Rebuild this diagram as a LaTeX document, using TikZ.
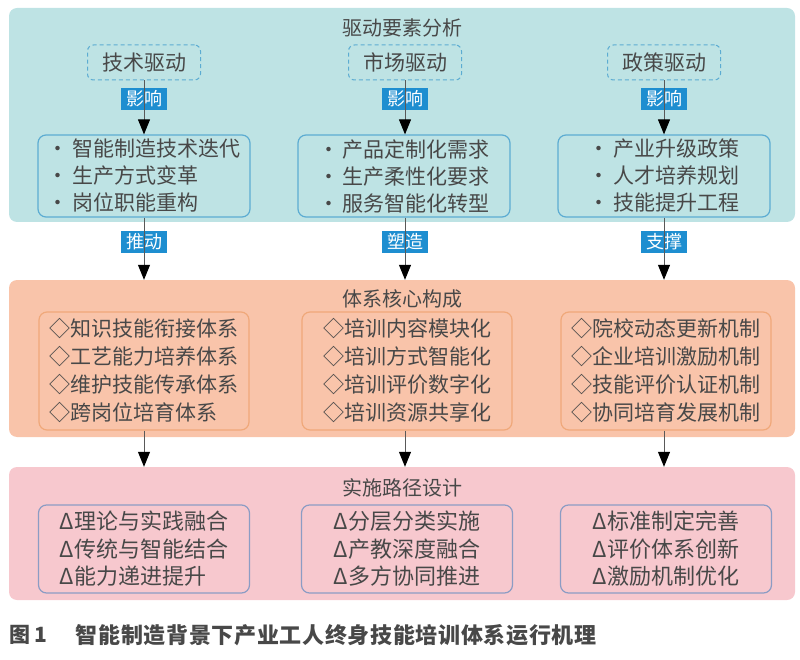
\documentclass[tikz,border=0pt]{standalone}
\usepackage{fontspec}
\usepackage{xcolor}
\usepackage{tikz}
\usetikzlibrary{arrows.meta, positioning}
\setmainfont{Noto Sans CJK SC}
\definecolor{drive_teal}{RGB}{190, 227, 228}
\definecolor{drive_line}{RGB}{92, 172, 210}
\definecolor{core_salmon}{RGB}{249, 196, 170}
\definecolor{core_line}{RGB}{240, 168, 122}
\definecolor{path_pink}{RGB}{247, 200, 206}
\definecolor{path_line}{RGB}{140, 156, 196}
\definecolor{tag_blue}{RGB}{30, 142, 208}
\definecolor{text_gray}{RGB}{72, 72, 72}

\begin{document}
\begin{tikzpicture}[x=1pt, y=-1pt,
    panel/.style={rounded corners=8pt, minimum width=786pt, inner sep=0},
    title/.style={font=\fontsize{20}{24}\selectfont, text=text_gray},
    drivebox/.style={draw=drive_line, dash pattern=on 4pt off 3pt, line width=1pt, rounded corners=6pt,
        minimum width=113pt, minimum height=35pt, inner sep=0,
        font=\fontsize{21}{24}\selectfont, text=text_gray},
    listbox/.style={rounded corners=8pt, line width=1.2pt, inner sep=0,
        align=left, text=text_gray},
    tag/.style={fill=tag_blue, text=white, minimum width=46pt, minimum height=22pt,
        inner sep=0, font=\fontsize{18}{20}\selectfont},
    flow/.style={draw=black!65, line width=1pt,
        -{Triangle[width=12pt,length=15pt,color=black]}}]

    \useasboundingbox (0,0) rectangle (800,660);

    % Panels
    \node[panel, fill=drive_teal, minimum height=214pt] (drive) at (402,115) {};
    \node[panel, fill=core_salmon, minimum height=157pt] (core) at (402,358.5) {};
    \node[panel, fill=path_pink, minimum height=133pt] (path) at (402,533.5) {};

    % Titles
    \node[title] (drivetitle) at (402,28) {驱动要素分析};
    \node[title] (coretitle) at (402,299) {体系核心构成};
    \node[title] (pathtitle) at (402,488) {实施路径设计};

    % Drivers
    \node[drivebox] (tech) at (144,62.5) {技术驱动};
    \node[drivebox] (market) at (405,62.5) {市场驱动};
    \node[drivebox] (policy) at (664,62.5) {政策驱动};

    % Driver contents
    \node[listbox, draw=drive_line, minimum width=212pt, minimum height=82pt,
        font=\fontsize{21}{27}\selectfont] (techlist) at (144,176)
        {·\,智能制造技术迭代\\·\,生产方式变革\\·\,岗位职能重构};
    \node[listbox, draw=drive_line, minimum width=212pt, minimum height=82pt,
        font=\fontsize{21}{27}\selectfont] (marketlist) at (404,176)
        {·\,产品定制化需求\\·\,生产柔性化要求\\·\,服务智能化转型};
    \node[listbox, draw=drive_line, minimum width=212pt, minimum height=82pt,
        font=\fontsize{21}{27}\selectfont] (policylist) at (664,176)
        {·\,产业升级政策\\·\,人才培养规划\\·\,技能提升工程};

    % Core contents
    \node[listbox, draw=core_line, minimum width=210pt, minimum height=118pt,
        font=\fontsize{21}{28}\selectfont] (corelist1) at (144,371)
        {◇知识技能衔接体系\\◇工艺能力培养体系\\◇维护技能传承体系\\◇跨岗位培育体系};
    \node[listbox, draw=core_line, minimum width=210pt, minimum height=118pt,
        font=\fontsize{21}{28}\selectfont] (corelist2) at (407,371)
        {◇培训内容模块化\\◇培训方式智能化\\◇培训评价数字化\\◇培训资源共享化};
    \node[listbox, draw=core_line, minimum width=210pt, minimum height=118pt,
        font=\fontsize{21}{28}\selectfont] (corelist3) at (666,371)
        {◇院校动态更新机制\\◇企业培训激励机制\\◇技能评价认证机制\\◇协同培育发展机制};

    % Path contents
    \node[listbox, draw=path_line, minimum width=211pt, minimum height=88pt,
        font=\fontsize{22}{27.5}\selectfont] (pathlist1) at (144,549)
        {Δ理论与实践融合\\Δ传统与智能结合\\Δ能力递进提升};
    \node[listbox, draw=path_line, minimum width=211pt, minimum height=88pt,
        font=\fontsize{22}{27.5}\selectfont] (pathlist2) at (407,549)
        {Δ分层分类实施\\Δ产教深度融合\\Δ多方协同推进};
    \node[listbox, draw=path_line, minimum width=211pt, minimum height=88pt,
        font=\fontsize{22}{27.5}\selectfont] (pathlist3) at (666,549)
        {Δ标准制定完善\\Δ评价体系创新\\Δ激励机制优化};

    % Tags
    \node[tag] (techtag) at (144,99) {影响};
    \node[tag] (markettag) at (405,99) {影响};
    \node[tag] (policytag) at (664,99) {影响};
    \node[tag] (pushtag) at (144,242) {推动};
    \node[tag] (shapetag) at (405,242) {塑造};
    \node[tag] (supporttag) at (664,242) {支撑};

    % Arrows
    \draw[flow] (tech.south) -- (tech.south |- techlist.north);
    \draw[flow] (market.south) -- (market.south |- marketlist.north);
    \draw[flow] (policy.south) -- (policy.south |- policylist.north);
    \draw[flow] (techlist.south) -- (techlist.south |- core.north);
    \draw[flow] (marketlist.south -| market.south) -- (market.south |- core.north);
    \draw[flow] (policylist.south) -- (policylist.south |- core.north);
    \draw[flow] (corelist1.south) -- (corelist1.south |- path.north);
    \draw[flow] (corelist2.south -| market.south) -- (market.south |- path.north);
    \draw[flow] (corelist3.south -| policy.south) -- (policy.south |- path.north);

    % Caption
    \node[anchor=west, font=\fontsize{21}{24}\selectfont\bfseries, text=text_gray]
        (figno) at (6,635) {图\,1};
    \node[right=22pt of figno, font=\fontsize{22}{24}\selectfont\bfseries\addfontfeature{LetterSpace=3}, text=text_gray]
        (figcap) {智能制造背景下产业工人终身技能培训体系运行机理};
\end{tikzpicture}
\end{document}
